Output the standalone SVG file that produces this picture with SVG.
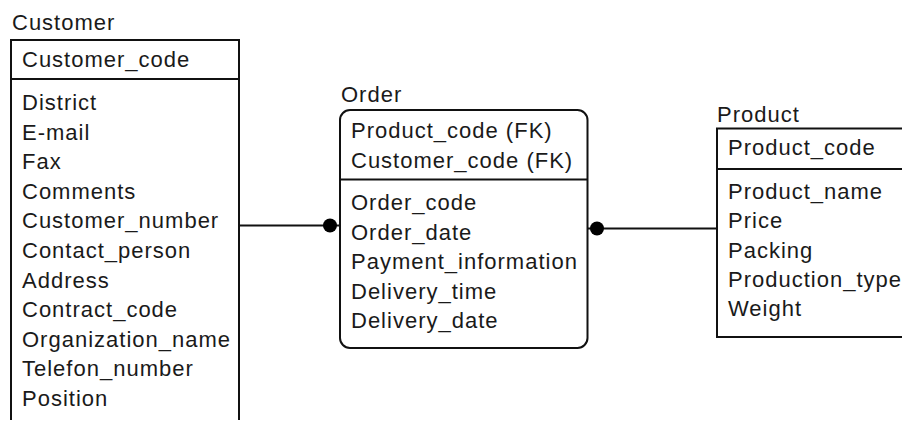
<svg xmlns="http://www.w3.org/2000/svg" width="902" height="421" viewBox="0 0 902 421">
  <style>
    text { font-family: "Liberation Sans", Arial, sans-serif; font-size: 22px; letter-spacing: 1px; fill: #1a1a1a; }
    .frame { fill: none; stroke: #111; stroke-width: 2; }
    .link { stroke: #111; stroke-width: 2; fill: none; }
    .dot { fill: #000; }
  </style>
  <rect width="902" height="421" fill="#fff"/>

  <!-- Customer entity (box continues past the bottom edge) -->
  <g id="customer">
    <text x="12" y="30">Customer</text>
    <path class="frame" d="M11,420 V40 H239 V420"/>
    <line class="frame" x1="11" y1="79" x2="239" y2="79"/>
    <text x="22" y="67">Customer_code</text>
    <text x="22" y="110">District</text>
    <text x="22" y="139.6">E-mail</text>
    <text x="22" y="169.2">Fax</text>
    <text x="22" y="198.8">Comments</text>
    <text x="22" y="228.4">Customer_number</text>
    <text x="22" y="258">Contact_person</text>
    <text x="22" y="287.6">Address</text>
    <text x="22" y="317.2">Contract_code</text>
    <text x="22" y="346.8">Organization_name</text>
    <text x="22" y="376.4">Telefon_number</text>
    <text x="22" y="406">Position</text>
  </g>

  <!-- Order entity (dependent, rounded corners) -->
  <g id="order">
    <text x="341" y="102">Order</text>
    <rect class="frame" x="340" y="110" width="247.5" height="238" rx="10" ry="10"/>
    <line class="frame" x1="340" y1="179.5" x2="587.5" y2="179.5"/>
    <text x="351" y="138.3">Product_code (FK)</text>
    <text x="351" y="167.5">Customer_code (FK)</text>
    <text x="351" y="210">Order_code</text>
    <text x="351" y="239.5">Order_date</text>
    <text x="351" y="269">Payment_information</text>
    <text x="351" y="298.5">Delivery_time</text>
    <text x="351" y="328">Delivery_date</text>
  </g>

  <!-- Product entity (box continues past the right edge) -->
  <g id="product">
    <text x="717" y="122">Product</text>
    <path class="frame" d="M905,128.5 H717 V337 H905"/>
    <line class="frame" x1="717" y1="169" x2="905" y2="169"/>
    <text x="728" y="155">Product_code</text>
    <text x="728" y="199">Product_name</text>
    <text x="728" y="228.3">Price</text>
    <text x="728" y="257.5">Packing</text>
    <text x="728" y="287">Production_type</text>
    <text x="728" y="316">Weight</text>
  </g>

  <!-- Relationships -->
  <g id="connectors">
    <line class="link" x1="239" y1="225.5" x2="340" y2="225.5"/>
    <circle class="dot" cx="330" cy="225.5" r="7"/>
    <line class="link" x1="587.5" y1="228.5" x2="717" y2="228.5"/>
    <circle class="dot" cx="597" cy="228.5" r="7"/>
  </g>
</svg>
